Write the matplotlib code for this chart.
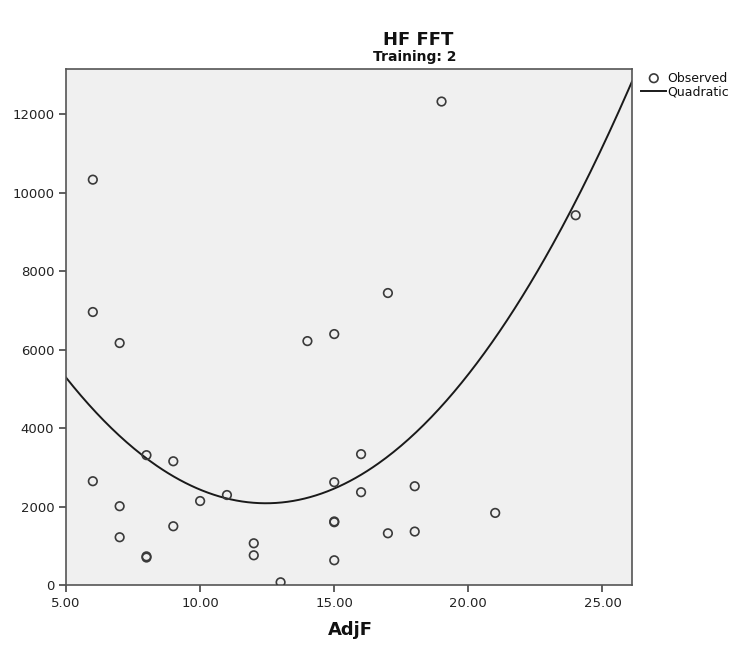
import numpy as np
import matplotlib
matplotlib.use("Agg")
import matplotlib.pyplot as plt

# Observed data (AdjF, HF FFT)
adjf = [6, 6, 6, 7, 7, 7, 8, 8, 8, 9, 9, 10, 11, 12, 12, 13, 14,
        15, 15, 15, 15, 15, 16, 16, 17, 17, 18, 18, 19, 21, 24]
hf_fft = [10330, 6957, 2645, 6166, 2008, 1217, 3309, 700, 730, 3153, 1497,
          2140, 2293, 1063, 757, 69, 6216,
          6395, 2620, 1600, 1620, 630, 3335, 2365, 7441, 1318, 2517, 1362,
          12321, 1837, 9423]

x_ticks = [5, 10, 15, 20, 25]
y_ticks = [0, 2000, 4000, 6000, 8000, 10000, 12000]

x = np.array(adjf, dtype=float)
y = np.array(hf_fft, dtype=float)
coef = np.polyfit(x, y, 2)

fig = plt.figure(figsize=(7.46, 6.48), dpi=100)
ax = fig.add_axes([66/746, 1-585/648, (632-66)/746, (585-69)/648])
ax.set_facecolor("#f0f0f0")

ax.scatter(x, y, s=38, facecolors="none", edgecolors="#3a3a3a", linewidths=1.2,
           zorder=3, label="Observed")
xs = np.linspace(5, 26.1, 300)
ax.plot(xs, np.polyval(coef, xs), color="#1a1a1a", lw=1.4, zorder=2, label="Quadratic")

ax.set_xlim(5, 26.1)
ax.set_ylim(0, 13150)
ax.set_xticks(x_ticks)
ax.set_xticklabels([f"{v:.2f}" for v in x_ticks])
ax.set_yticks(y_ticks)
ax.set_yticklabels([str(v) for v in y_ticks])
ax.tick_params(direction="out", length=5, width=1.2, color="#444444",
               labelsize=9.5, labelcolor="#222222")
for s in ax.spines.values():
    s.set_color("#555555")
    s.set_linewidth(1.2)

fig.text(418/746, 1-40/648, "HF FFT", ha="center", va="center",
         fontsize=13, fontweight="bold", color="#111111")
fig.text(415/746, 1-57/648, "Training: 2", ha="center", va="center",
         fontsize=10, fontweight="bold", color="#111111")
fig.text(350/746, 1-630/648, "AdjF", ha="center", va="center",
         fontsize=13, fontweight="bold", color="#111111")

leg = ax.legend(loc="upper left", bbox_to_anchor=(1.012, 1.0), frameon=False,
                fontsize=9, handlelength=2.0, handletextpad=0.1,
                labelspacing=0.1, borderaxespad=0.0, borderpad=0.2)
for t in leg.get_texts():
    t.set_color("#111111")

fig.savefig("out.png", dpi=100)
